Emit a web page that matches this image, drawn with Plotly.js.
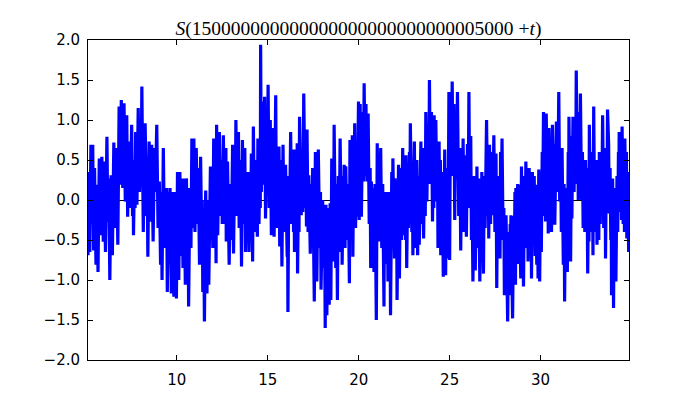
<!DOCTYPE html>
<html>
<head>
<meta charset="utf-8">
<script src="https://cdn.plot.ly/plotly-3.0.1.min.js"></script>
<style>html,body{margin:0;padding:0;background:#fff;}#chart{width:700px;height:400px;}</style>
</head>
<body>
<div id="chart"></div>
<script>
// t offset from 150000000000000000000000000005000
const t = [
5.12,5.17,5.22,5.28,5.34,5.38,5.43,5.48,5.56,5.61,
5.67,5.74,5.81,5.88,5.96,6.01,6.08,6.16,6.21,6.26,
6.32,6.39,6.46,6.54,6.61,6.68,6.76,6.83,6.90,6.95,
7.03,7.10,7.17,7.25,7.30,7.37,7.44,7.52,7.57,7.60,
7.62,7.68,7.71,7.74,7.81,7.88,7.95,8.01,8.04,8.08,
8.16,8.20,8.23,8.26,8.33,8.37,8.41,8.48,8.55,8.62,
8.70,8.77,8.82,8.90,8.97,9.04,9.11,9.15,9.19,9.26,
9.33,9.37,9.41,9.44,9.48,9.55,9.59,9.63,9.70,9.77,
9.84,9.90,9.98,10.04,10.11,10.17,10.24,10.29,10.34,10.40,
10.47,10.53,10.60,10.62,10.65,10.72,10.78,10.83,10.89,10.94,
11.00,11.07,11.13,11.18,11.25,11.31,11.37,11.40,11.43,11.47,
11.52,11.59,11.66,11.71,11.76,11.85,11.92,11.95,11.98,12.03,
12.10,12.13,12.16,12.19,12.25,12.34,12.40,12.47,12.50,12.56,
12.63,12.70,12.72,12.79,12.88,12.95,13.00,13.07,13.12,13.18,
13.22,13.25,13.32,13.39,13.43,13.50,13.56,13.61,13.67,13.74,
13.78,13.84,13.90,13.93,13.97,14.03,14.06,14.10,14.17,14.21,
14.28,14.35,14.43,14.46,14.52,14.57,14.59,14.61,14.65,14.70,
14.76,14.83,14.88,14.95,14.98,15.02,15.08,15.14,15.20,15.29,
15.35,15.44,15.48,15.55,15.60,15.62,15.66,15.72,15.78,15.84,
15.90,15.98,16.07,16.09,16.11,16.16,16.20,16.26,16.32,16.38,
16.42,16.44,16.47,16.55,16.58,16.62,16.64,16.70,16.72,16.75,
16.84,16.90,16.93,16.98,17.06,17.10,17.13,17.16,17.22,17.26,
17.34,17.40,17.44,17.47,17.56,17.62,17.70,17.78,17.86,17.90,
17.93,18.02,18.07,18.12,18.16,18.20,18.25,18.32,18.38,18.43,
18.47,18.52,18.56,18.60,18.62,18.65,18.74,18.78,18.83,18.88,
18.92,18.98,19.04,19.07,19.09,19.15,19.17,19.20,19.25,19.29,
19.36,19.42,19.49,19.52,19.58,19.65,19.68,19.72,19.75,19.78,
19.83,19.88,19.92,19.99,20.03,20.08,20.15,20.22,20.26,20.30,
20.36,20.40,20.45,20.52,20.58,20.63,20.66,20.70,20.76,20.79,
20.84,20.90,20.97,21.02,21.08,21.12,21.15,21.21,21.27,21.32,
21.39,21.42,21.47,21.51,21.56,21.58,21.61,21.66,21.70,21.72,
21.75,21.82,21.86,21.88,21.97,22.00,22.06,22.08,22.11,22.19,
22.24,22.30,22.36,22.42,22.48,22.54,22.58,22.60,22.64,22.70,
22.73,22.79,22.81,22.84,22.92,22.95,22.98,23.06,23.12,23.16,
23.17,23.20,23.24,23.30,23.33,23.42,23.46,23.51,23.57,23.62,
23.66,23.69,23.75,23.80,23.86,23.89,23.94,24.00,24.06,24.10,
24.13,24.15,24.20,24.24,24.30,24.33,24.36,24.42,24.47,24.49,
24.51,24.56,24.58,24.60,24.65,24.73,24.78,24.82,24.84,24.88,
24.91,24.96,25.00,25.05,25.10,25.14,25.19,25.24,25.28,25.33,
25.38,25.43,25.50,25.56,25.61,25.66,25.70,25.74,25.79,25.87,
25.92,25.98,26.02,26.06,26.10,26.16,26.20,26.23,26.28,26.34,
26.41,26.46,26.48,26.50,26.55,26.59,26.66,26.72,26.74,26.77,
26.86,26.90,26.95,27.03,27.09,27.12,27.15,27.19,27.25,27.30,
27.37,27.43,27.49,27.55,27.59,27.64,27.68,27.73,27.77,27.80,
27.83,27.88,27.94,27.98,28.01,28.05,28.08,28.10,28.19,28.24,
28.28,28.33,28.34,28.37,28.46,28.52,28.55,28.59,28.62,28.64,
28.70,28.74,28.78,28.82,28.91,28.95,29.00,29.02,29.06,29.12,
29.15,29.19,29.25,29.28,29.31,29.37,29.43,29.46,29.50,29.55,
29.60,29.65,29.70,29.73,29.79,29.83,29.86,29.90,29.95,30.00,
30.04,30.09,30.12,30.16,30.22,30.25,30.27,30.31,30.37,30.40,
30.42,30.46,30.52,30.56,30.60,30.65,30.72,30.75,30.78,30.87,
30.94,31.00,31.05,31.10,31.14,31.18,31.25,31.29,31.32,31.37,
31.41,31.44,31.47,31.52,31.54,31.56,31.62,31.63,31.65,31.70,
31.72,31.78,31.84,31.90,31.93,31.96,32.01,32.04,32.07,32.12,
32.15,32.19,32.25,32.30,32.34,32.38,32.43,32.47,32.52,32.55,
32.59,32.64,32.66,32.68,32.74,32.78,32.82,32.85,32.88,32.92,
32.97,33.01,33.05,33.07,33.10,33.16,33.20,33.23,33.28,33.32,
33.36,33.41,33.47,33.54,33.57,33.62,33.65,33.68,33.74,33.77,
33.82,33.86,33.88,33.90,33.96,34.01,34.05,34.08,34.10,34.14,
34.20,34.24,34.28,34.30,34.32,34.37,34.42,34.45,34.48,34.54,
34.58,34.61,34.63,34.70,34.72,34.74,34.80,34.84,34.88
];
// S values
const s = [
-0.69,0.35,-0.65,0.69,-0.30,0.69,-0.63,0.40,-0.81,0.19,
-0.90,0.52,-0.44,0.54,-0.52,0.48,-0.65,0.79,-0.27,0.27,
-1.00,0.31,-0.69,0.72,-0.35,0.65,-0.56,1.17,0.19,1.25,
0.15,1.21,-0.02,1.06,-0.21,0.73,-0.10,0.94,-0.20,0.50,
-0.44,0.40,-0.10,0.85,-0.06,1.15,0.10,0.65,0.20,1.42,
-0.40,0.50,-0.20,0.96,0.06,0.40,-0.71,0.73,-0.27,0.69,
-0.52,0.65,0.10,0.94,-0.35,0.23,-0.81,0.10,-1.00,0.65,
-0.60,0.15,-0.20,0.15,-1.15,0.10,-0.80,0.15,-1.17,0.10,
-1.21,0.10,-1.23,0.35,-1.00,0.35,-0.70,0.27,-0.85,0.27,
-1.06,0.27,-0.70,0.15,-1.33,0.15,-0.60,0.77,-0.35,0.77,
-0.40,0.65,-0.30,0.40,-0.81,0.54,-0.50,0.00,-1.15,-0.10,
-1.52,0.12,-1.17,0.00,-1.06,0.42,-0.50,0.10,-0.60,0.77,
-0.40,0.30,-0.79,0.94,-0.44,0.85,-0.20,0.50,-0.30,0.81,
-0.30,0.65,-0.52,0.48,-0.81,0.20,-0.50,0.69,-0.67,0.40,
0.00,1.00,-0.20,0.85,-0.35,0.50,-0.83,0.75,-0.30,0.65,
-0.65,0.35,-0.50,0.35,-0.65,0.30,-0.40,0.58,-0.77,0.92,
-0.40,0.50,-0.46,0.77,-0.30,0.50,-0.10,1.94,0.10,1.23,
0.19,1.29,-0.23,1.10,0.20,1.44,-0.10,1.00,-0.44,0.90,
-0.46,1.31,-0.35,0.50,-0.30,0.67,-0.58,0.50,-0.83,0.69,
-0.40,0.44,-0.71,0.00,-1.40,0.30,-0.27,0.85,-0.30,0.40,
-0.40,0.63,-0.65,0.20,-0.50,0.71,-0.92,0.40,-0.40,1.04,
-0.19,0.60,-0.15,1.33,-0.10,0.60,-0.33,0.88,-0.40,0.31,
-0.67,0.20,-0.50,0.40,-1.27,0.60,-1.02,0.63,-0.60,0.10,
-1.12,0.00,-0.85,-0.10,-1.60,-0.06,-1.44,-0.10,-1.31,-0.04,
-1.25,0.52,-0.60,0.30,-0.77,0.94,-0.85,0.20,-1.25,0.30,
-0.65,0.77,-0.40,0.20,-0.81,0.30,-0.50,0.44,-0.60,0.42,
-0.50,0.20,-1.04,0.75,-0.50,0.81,-0.71,0.30,-0.30,0.96,
-0.35,0.60,-0.21,1.23,-0.25,1.20,-0.21,1.10,0.23,1.46,
0.30,1.20,0.23,1.08,-0.30,0.40,-0.85,0.23,-0.60,0.15,
-0.90,0.20,-1.50,0.71,-0.40,0.40,-0.52,0.65,-0.60,0.20,
-1.33,0.10,-0.70,0.10,-0.80,-0.10,-1.02,0.10,-0.90,-0.27,
-1.44,0.35,-0.40,0.52,-0.73,0.27,-0.50,0.20,-1.25,0.44,
-0.98,0.40,-0.50,0.65,-0.44,0.40,-0.50,0.56,-0.85,0.30,
-0.35,0.60,-0.30,0.96,-0.40,0.40,-0.69,0.73,-0.60,0.30,
-0.40,0.50,-0.69,0.30,-0.56,0.73,-0.30,0.65,-0.48,0.60,
-0.20,1.10,-0.02,0.90,0.27,1.50,0.20,1.10,-0.27,0.80,
-0.10,1.06,0.10,1.00,-0.02,0.70,-0.60,0.73,-0.50,0.50,
-0.69,0.20,-0.60,0.35,-0.96,0.63,-0.94,0.20,-0.44,0.40,
-0.73,1.35,-0.75,1.35,0.30,1.48,0.31,1.20,-0.25,1.00,
0.27,1.35,-0.20,0.65,-0.63,0.50,-0.30,0.77,-0.40,0.56,
-0.46,0.70,-0.10,1.35,0.10,0.80,-0.50,0.15,-1.02,0.30,
-0.88,0.20,-0.60,0.42,-0.60,0.27,-1.02,0.20,-0.70,0.35,
-0.92,0.30,-0.35,1.00,-0.20,0.60,-0.48,0.69,-0.30,0.60,
-0.19,0.81,-0.40,0.58,-1.10,0.30,-0.60,-0.10,-0.73,0.60,
-0.27,0.77,-0.50,-0.10,-1.19,-0.30,-0.90,-0.19,-1.52,-0.40,
-1.19,-0.30,-0.90,-0.19,-1.48,-0.20,-0.90,0.10,-1.06,0.15,
-0.70,0.20,-0.80,0.19,-0.98,0.42,-0.60,0.20,-1.08,0.30,
-0.60,0.48,-0.50,0.30,-0.77,0.40,-0.60,0.20,-0.98,0.35,
-0.50,0.30,-0.70,0.19,-0.81,0.10,-0.98,0.38,-1.02,0.35,
-0.65,0.60,-0.02,1.10,-0.20,0.80,-0.27,1.08,0.00,0.70,
-0.42,0.90,-0.20,0.60,-0.40,0.94,-0.10,0.70,-0.31,0.98,
0.10,1.35,-0.02,0.60,-0.40,0.65,-0.81,0.20,-1.27,0.10,
-0.60,0.15,-0.90,0.60,-0.20,1.04,-0.30,0.50,-0.77,0.80,
-0.23,1.04,0.10,1.00,0.20,1.62,0.40,1.10,0.00,1.10,
0.20,1.33,0.00,0.60,-0.35,0.40,-0.40,0.50,-0.30,0.40,
-0.92,0.30,-0.52,0.94,-0.40,0.60,-0.40,0.40,-0.69,1.17,
-0.30,0.50,-0.40,0.44,-0.56,0.50,-0.50,0.60,-0.30,0.60,
-0.20,1.06,-0.35,0.65,-0.73,0.60,-0.10,1.13,0.70,-0.17,
0.40,-0.50,0.20,-1.19,0.27,-1.35,0.10,-0.50,0.15,-1.02,
0.30,-0.40,0.60,-0.10,0.85,-0.15,0.80,-0.25,0.92,-0.30,
0.50,-0.40,0.77,-0.30,0.60,-0.48,0.35,-0.65,0.35
];
const xTicks = [10, 15, 20, 25, 30];
const yTicks = [-2.0, -1.5, -1.0, -0.5, 0.0, 0.5, 1.0, 1.5, 2.0];
const titleText = '<i>S</i>(150000000000000000000000000005000 +<i>t</i>)';

const axisCommon = {
  showline: true, mirror: 'ticks', linecolor: '#000', linewidth: 1,
  ticks: 'inside', ticklen: 5, tickwidth: 1, tickcolor: '#000',
  showgrid: false,
  tickfont: {family: 'DejaVu Sans', size: 15, color: '#000'}
};

Plotly.newPlot('chart', [{
  x: t, y: s, type: 'scatter', mode: 'lines',
  line: {color: '#0000ff', width: 3.2},
  hoverinfo: 'skip'
}], {
  width: 700, height: 400,
  margin: {l: 88, r: 71, t: 40, b: 40},
  paper_bgcolor: '#fff', plot_bgcolor: '#fff',
  showlegend: false,
  title: {text: titleText, x: 0.5, xref: 'paper', y: 0.93, yref: 'container', yanchor: 'middle',
          font: {family: 'Liberation Serif', size: 19.5, color: '#000'}},
  xaxis: Object.assign({}, axisCommon, {
    range: [5.12, 34.86], tickmode: 'array', tickvals: xTicks, ticktext: xTicks.map(String),
    zeroline: false, ticklabelstandoff: 6
  }),
  yaxis: Object.assign({}, axisCommon, {
    range: [-2, 2], tickmode: 'array', tickvals: yTicks, ticktext: yTicks.map(v => v.toFixed(1).replace('-', '\u2212')),
    zeroline: true, zerolinecolor: '#000', zerolinewidth: 1, ticklabelstandoff: 4
  })
}, {staticPlot: true});
</script>
</body>
</html>
